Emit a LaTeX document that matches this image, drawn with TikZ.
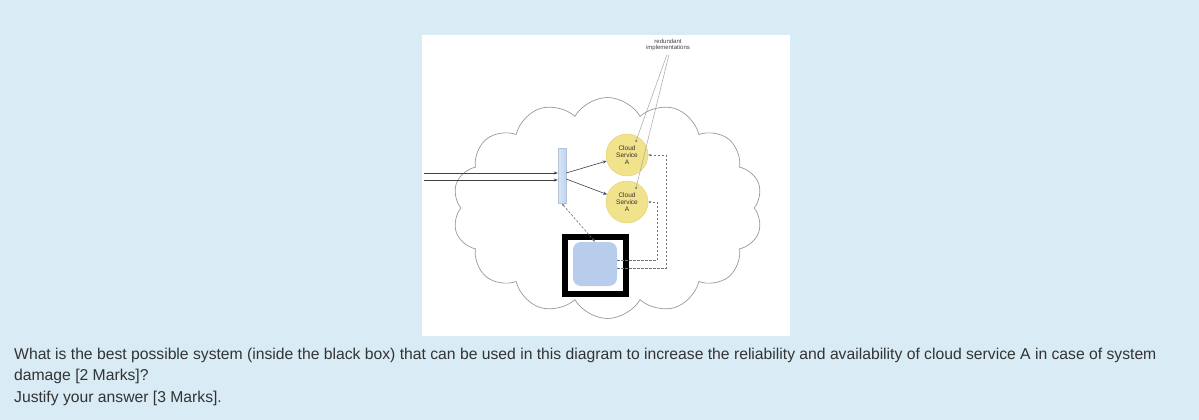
\documentclass[tikz,border=0pt]{standalone}
\usepackage{fontspec}
\setmainfont{Liberation Sans}
\usetikzlibrary{shapes.symbols, arrows.meta}
\definecolor{pagebg}{RGB}{217,235,245}
\definecolor{svcfill}{RGB}{241,226,140}
\definecolor{svcedge}{RGB}{228,208,110}
\definecolor{monblue}{RGB}{184,205,236}
\definecolor{barblue}{RGB}{190,212,242}
\definecolor{qtext}{RGB}{51,51,51}
\tikzstyle{service} = [circle, minimum size=42, inner sep=0pt, fill=svcfill, draw=svcedge, align=center, text=black!80, font=\fontsize{6.5}{7}\selectfont]
\tikzstyle{arrow} = [->, >={Stealth[length=4pt, width=3pt]}, draw=black!75, line width=0.6pt]
\tikzstyle{dasharrow} = [->, >={Stealth[length=3pt, width=2.5pt]}, draw=black!55, dashed, dash pattern=on 2.5pt off 1.5pt, line width=0.6pt]
\tikzstyle{pointer} = [draw=black!35, line width=0.5pt]

\begin{document}
\begin{tikzpicture}[x=1pt, y=-1pt]
    % Fundo
    \fill [pagebg] (0,0) rectangle (1199,420);
    \useasboundingbox (0,0) rectangle (1199,420);
    \fill [white] (422,35) rectangle (790,336);

    % Nós
    \node (cloud) [cloud, cloud puffs=14, cloud puff arc=120, draw=black!40, line width=0.7pt, fill=white, minimum width=310, minimum height=221, aspect=1.4] at (607.5,208) {};

    \node (redund) [align=center, text=black!75, font=\fontsize{6}{6.5}\selectfont] at (668,45) {redundant\\implementations};

    \node (svcA) [service] at (627,155) {Cloud\\Service\\A};
    \node (svcB) [service] at (627,202) {Cloud\\Service\\A};

    \node (lb) [rectangle, minimum width=8, minimum height=55, inner sep=0pt, left color=barblue!60, right color=barblue, draw=barblue!80!black!70] at (562,176) {};

    \node (sysbox) [rectangle, draw=black, line width=6pt, minimum width=61, minimum height=57, inner sep=0pt] at (595.5,265.5) {};
    \node (mon) [rectangle, rounded corners=8pt, fill=monblue, minimum width=44, minimum height=44, inner sep=0pt] at (595,264) {};

    \coordinate (in1) at (424,173);
    \coordinate (in2) at (424,180);
    \coordinate (dotA) at (636,141);
    \coordinate (dotB) at (636,188);

    \node (q) [anchor=north west, align=left, text=qtext, font=\fontsize{15.7}{21}\selectfont, inner sep=0pt] at (14,348) {What is the best possible system (inside the black box) that can be used in this diagram to increase the reliability and availability of cloud service A in case of system\\damage [2 Marks]?\\[1pt]Justify your answer [3 Marks].};

    % Conexões
    \draw [arrow] (in1) -- (lb.west |- in1);
    \draw [arrow] (in2) -- (lb.west |- in2);
    \draw [arrow] ([yshift=3pt]lb.east) -- (svcA);
    \draw [arrow] ([yshift=-3pt]lb.east) -- (svcB);

    \draw [pointer] ([xshift=-1pt]redund.south) -- (dotA);
    \draw [pointer] ([xshift=1pt]redund.south) -- (dotB);
    \fill [black!60] (dotA) circle (1pt);
    \fill [black!60] (dotB) circle (1pt);

    \draw [dasharrow, <->] (mon.north) -- (lb.south);
    \draw [dasharrow] ([yshift=4pt]mon.east) -- ++(40,0) |- (svcB.east);
    \draw [dasharrow] ([yshift=-4pt]mon.east) -- ++(49,0) |- (svcA.east);

\end{tikzpicture}
\end{document}
